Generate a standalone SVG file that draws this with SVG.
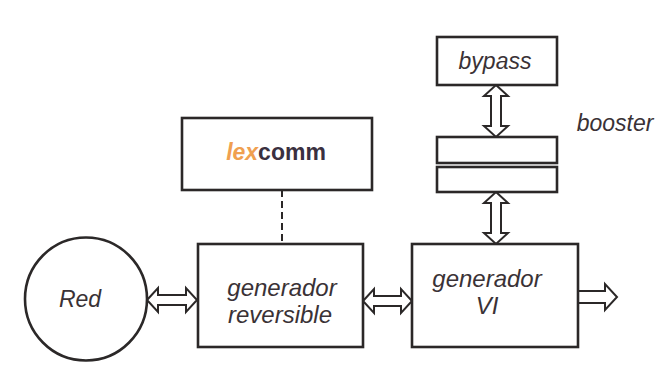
<svg xmlns="http://www.w3.org/2000/svg" width="669" height="389" viewBox="0 0 669 389">
<style>
.box{fill:#ffffff;stroke:#2b2828;stroke-width:2.6}
.arr{fill:#ffffff;stroke:#2b2828;stroke-width:2;stroke-linejoin:miter}
.t{font-family:"Liberation Sans",Arial,sans-serif;font-style:italic;font-size:23px;fill:#3a3236;text-anchor:middle}
.g{font-size:24px}
</style>
<rect width="669" height="389" fill="#ffffff"/>
<g id="connectors">
<line x1="282" y1="190" x2="282" y2="244" stroke="#2b2828" stroke-width="2" stroke-dasharray="7,4"/>
<polygon class="arr" points="147,300 158,288 158,295 186,295 186,288 197,300 186,312 186,305 158,305 158,312"/>
<polygon class="arr" points="363,301 374,289 374,296 401,296 401,289 412,301 401,313 401,306 374,306 374,313"/>
<polygon class="arr" points="578,291 605,291 605,284 617,297 605,310 605,303 578,303"/>
<polygon class="arr" points="496,85 508,96 501,96 501,126 508,126 496,137 484,126 491,126 491,96 484,96"/>
<polygon class="arr" points="496,192 508,203 501,203 501,233 508,233 496,244 484,233 491,233 491,203 484,203"/>
</g>
<g id="red">
<ellipse class="box" cx="86" cy="299" rx="61" ry="61.5"/>
<text class="t" x="80" y="307">Red</text>
</g>
<g id="lexcomm">
<rect class="box" x="182" y="118" width="190" height="72"/>
<text x="276" y="160" font-family="Liberation Sans,Arial,sans-serif" font-size="23" text-anchor="middle"><tspan font-style="italic" font-weight="bold" fill="#f0a050">lex</tspan><tspan fill="#3a3040" font-weight="bold">comm</tspan></text>
</g>
<g id="bypass">
<rect class="box" x="437" y="37" width="120" height="48"/>
<text class="t" x="495" y="69">bypass</text>
</g>
<g id="booster">
<rect class="box" x="437" y="137" width="120" height="26"/>
<rect class="box" x="437" y="167" width="120" height="25"/>
<text class="t" x="615" y="131" font-size="22">booster</text>
</g>
<g id="gen-rev">
<rect class="box" x="198" y="244" width="165" height="103"/>
<text class="t g" x="282" y="296">generador</text>
<text class="t g" x="280" y="323">reversible</text>
</g>
<g id="gen-vi">
<rect class="box" x="412" y="244" width="166" height="103"/>
<text class="t g" x="487" y="287">generador</text>
<text class="t g" x="487" y="314">VI</text>
</g>
</svg>
